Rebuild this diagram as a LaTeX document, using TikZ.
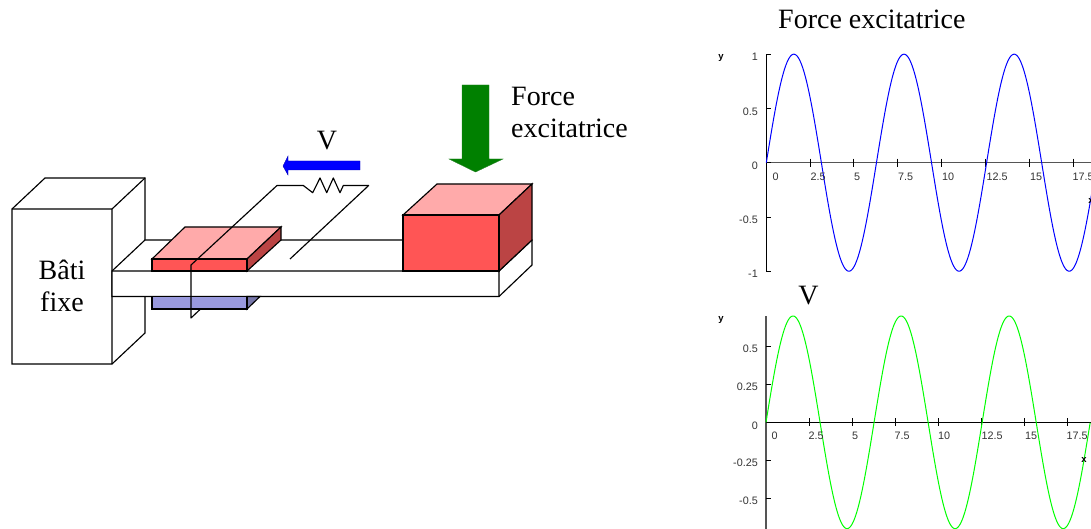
\documentclass[tikz,border=0pt]{standalone}
\usepackage{fontspec}
\setmainfont{Liberation Serif}
\newfontfamily\axisfont{Liberation Sans}
\definecolor{redfront}{HTML}{FF5555}
\definecolor{redtop}{HTML}{FFAAAA}
\definecolor{redside}{HTML}{BB4444}
\definecolor{bluefront}{HTML}{9999DD}
\definecolor{blueside}{HTML}{7777AA}
\definecolor{axisgrey}{HTML}{555555}
\definecolor{ticktext}{HTML}{333333}
\definecolor{arrowgreen}{HTML}{008000}
\tikzset{
  solid part/.style={draw=black,line width=1.15pt,line join=miter},
  wire/.style={draw=black,line width=1.15pt,line join=round},
  title text/.style={inner sep=0pt,font=\fontsize{28}{32}\selectfont},
  tick text/.style={inner sep=0pt,text=ticktext,font=\axisfont\fontsize{10.8}{12}\selectfont},
  axis name/.style={inner sep=0pt,text=black,font=\axisfont\bfseries\fontsize{9.5}{11}\selectfont},
  axis line/.style={line width=1.1pt},
  tick mark/.style={line width=1pt,draw=black},
  curve/.style={line width=1pt,line join=round}
}
\begin{document}
\begin{tikzpicture}[x=1pt,y=-1pt]
\useasboundingbox (0,0) rectangle (1091,529);
\clip (0,0) rectangle (1091,529);
% Bati
\filldraw[solid part,fill=white] (12,209) -- (45,178) -- (145,178) -- (145,333) -- (112,364) -- (12,364) -- cycle;
\draw[solid part] (12,209) -- (112,209) -- (112,364) (112,209) -- (145,178);
% Beam
\filldraw[solid part,fill=white] (112,271) -- (145,240) -- (532,240) -- (532,265) -- (499,296.5) -- (112,296.5) -- cycle;
\draw[solid part] (112,271) -- (499,271) -- (499,296.5) (499,271) -- (532,240);
% Lower block
\filldraw[solid part,fill=blueside] (247,296.5) -- (260,296.5) -- (247,309) -- cycle;
\filldraw[solid part,fill=bluefront] (152,296.5) rectangle (247,309);
% Upper thin block
\filldraw[solid part,fill=redtop] (152,259) -- (185,227) -- (281,227) -- (247,259) -- cycle;
\filldraw[solid part,fill=redside] (247,259) -- (281,227) -- (281,240) -- (247,271) -- cycle;
\filldraw[solid part,fill=redfront] (152,259) rectangle (247,271);
% Mass
\filldraw[solid part,fill=redtop] (403,215) -- (437,184) -- (532,184) -- (499,215) -- cycle;
\filldraw[solid part,fill=redside] (499,215) -- (532,184) -- (532,240) -- (499,271) -- cycle;
\filldraw[solid part,fill=redfront] (403,215) rectangle (499,271);
% Coil and resistor
\draw[wire] (200,309.5) -- (191,318) -- (191,265) -- (277,185.5) -- (303.3,185.5) -- (312.7,192.7) -- (320,178) -- (326.7,192.7) -- (333.3,178) -- (340,192.7) -- (343.3,185.5) -- (368.7,185.5) -- (290,259);
% Arrows
\filldraw[draw=blue!70!black,line width=0.4pt,fill=blue] (283,166) -- (288,156) -- (288,161) -- (360,161) -- (360,170) -- (288,170) -- (288,175) -- cycle;
\filldraw[draw=arrowgreen!70!gray,line width=0.4pt,fill=arrowgreen] (462,85) -- (489,85) -- (489,159) -- (503,159) -- (475.5,172) -- (449,159) -- (462,159) -- cycle;
% Labels of the scene
\node[title text,align=center] (labelbati) at (62,286) {Bâti\\fixe};
\node[title text] (labelv) at (327,141) {V};
\node[title text,anchor=base west] (labelforce) at (511,106) {Force};
\node[title text,anchor=base west] (labelexc) at (511,138) {excitatrice};
% Top chart
\node[title text,anchor=base west] (titleforce) at (778,29) {Force excitatrice};
\draw[axis line,black] (766.3,54.3) -- (766.3,271.3);
\draw[axis line,axisgrey] (766.3,162.7) -- (1091,162.7);
\foreach \t in {54.3,108.7,162.7,217.3,271.3} \draw[tick mark] (766.3,\t) -- (771,\t);
\foreach \k in {1,...,7} \draw[tick mark] (766.3+43.83*\k,158.7) -- (766.3+43.83*\k,166.7);
\draw[curve,blue] plot[domain=0:18.85,samples=500,smooth] ({766.3+17.53*\x},{162.7-108.5*sin(\x r)});
\foreach \xx/\lab in {775.5/0,818/2.5,857/5,905.5/7.5,948/10,997/12.5,1036/15,1083/17.5} \node[tick text] at (\xx,177) {\lab};
\foreach \yy/\lab in {57/1,112/0.5,166/0,220/-0.5,274/-1} \node[tick text,anchor=east] at (758,\yy) {\lab};
\node[axis name] (yone) at (721,58) {y};
\node[axis name] (xone) at (1091,201) {x};
% Bottom chart
\node[title text] (titlev) at (808.5,296) {V};
\draw[axis line,axisgrey] (766,316) -- (766,529);
\draw[axis line,black] (766,422.3) -- (1091,422.3);
\foreach \t in {346.7,384.3,460.3,498.3} \draw[tick mark] (766,\t) -- (770.5,\t);
\foreach \k in {1,...,7} \draw[tick mark] (766+43*\k,418.3) -- (766+43*\k,426.3);
\draw[curve,green] plot[domain=0:18.85,samples=500,smooth] ({766+17.2*\x},{422.3-106.3*sin(\x r)});
\foreach \xx/\lab in {774.5/0,816/2.5,855/5,902/7.5,944/10,992/12.5,1031/15,1077/17.5} \node[tick text] at (\xx,436) {\lab};
\foreach \yy/\lab in {349/0.5,387/0.25,425.5/0,463/-0.25,501/-0.5} \node[tick text,anchor=east] at (758,\yy) {\lab};
\node[axis name] (ytwo) at (721,320) {y};
\node[axis name] (xtwo) at (1084,460) {x};
\end{tikzpicture}
\end{document}
